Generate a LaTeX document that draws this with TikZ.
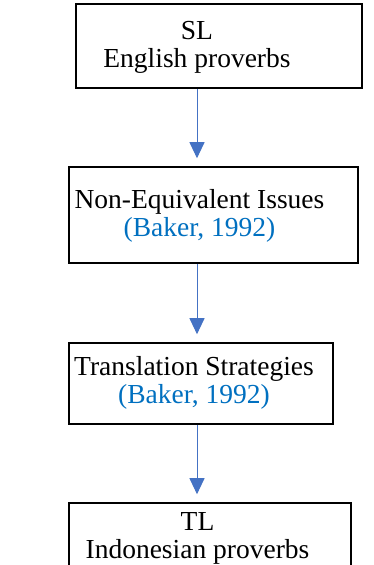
\documentclass[tikz,border=0pt]{standalone}
\usepackage{fontspec}
\setmainfont{Liberation Serif}
\usepackage{xcolor}
\usepackage{tikz}
\usetikzlibrary{arrows.meta}
\definecolor{flowblue}{RGB}{68,114,196}
\definecolor{citeblue}{RGB}{0,112,192}

\begin{document}
\begin{tikzpicture}[x=1pt,y=-1pt,
  box/.style={draw,line width=1.6pt,inner sep=0pt},
  lbl/.style={align=center,inner sep=0pt,font=\fontsize{27.5}{28}\selectfont},
  flow/.style={-{Triangle[length=16pt,width=15pt]},flowblue,line width=1pt,shorten >=8pt}]
  \useasboundingbox (0,0) rectangle (374,565);
  \clip (0,0) rectangle (374,565);
  \fill[white] (0,0) rectangle (374,565);
  \coordinate (ax) at (197,0);
  % SL
  \node[box,minimum width=286pt,minimum height=84pt] (sl) at (219,46) {};
  \node[lbl] (slt) at (197,47) {SL\\English proverbs};
  % non-equivalence
  \node[box,minimum width=289pt,minimum height=96pt] (neq) at (213.5,215) {};
  \node[lbl] (neqt) at (199.5,216) {Non-Equivalent Issues\\\textcolor{citeblue}{(Baker, 1992)}};
  % strategies
  \node[box,minimum width=264pt,minimum height=81pt] (str) at (201,383.5) {};
  \node[lbl] (strt) at (194,383) {Translation Strategies\\\textcolor{citeblue}{(Baker, 1992)}};
  % TL
  \node[box,minimum width=282pt,minimum height=117pt] (tl) at (210,561.5) {};
  \node[lbl] (tlt) at (197.5,538) {TL\\Indonesian proverbs};
  % arrows
  \draw[flow] (sl.south -| ax) -- (neq.north -| ax);
  \draw[flow] (neq.south -| ax) -- (str.north -| ax);
  \draw[flow] (str.south -| ax) -- (tl.north -| ax);
\end{tikzpicture}
\end{document}
